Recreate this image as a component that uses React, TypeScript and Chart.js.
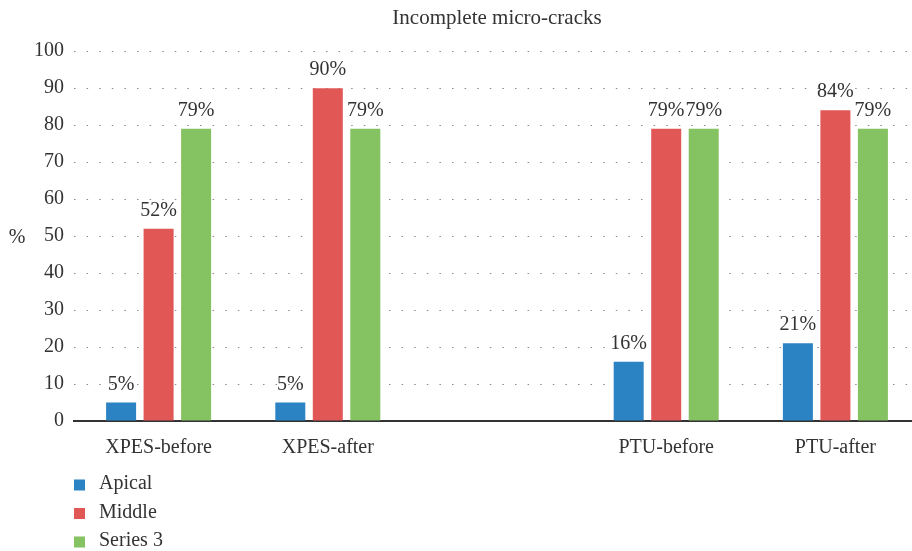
import React, { useEffect, useRef } from "react";
import { Chart, registerables } from "chart.js";

Chart.register(...registerables);

// ---- Data ----
const categories = ["XPES-before", "XPES-after", "", "PTU-before", "PTU-after"];
const seriesNames = ["Apical", "Middle", "Series 3"];
const apicalValues = [5, 5, null, 16, 21];
const middleValues = [52, 90, null, 79, 84];
const series3Values = [79, 79, null, 79, 79];
const seriesColors = ["#2C83C3", "#E05756", "#85C261"];
const chartTitle = "Incomplete micro-cracks";
const yAxisTitle = "%";
const yMin = 0;
const yMax = 100;
const yStep = 10;

const FONT = "'Liberation Serif', 'Times New Roman', serif";
const TEXT = "#333333";

const customPlugin = {
  id: "customDecor",
  afterDatasetsDraw(chart: any) {
    const ctx = chart.ctx;
    const area = chart.chartArea;
    ctx.save();
    // value labels
    ctx.font = `20px ${FONT}`;
    ctx.fillStyle = TEXT;
    ctx.textAlign = "center";
    ctx.textBaseline = "alphabetic";
    chart.data.datasets.forEach((ds: any, i: number) => {
      const meta = chart.getDatasetMeta(i);
      meta.data.forEach((el: any, j: number) => {
        const v = ds.data[j];
        if (v === null || v === undefined) return;
        ctx.fillText(`${v}%`, el.x, el.y - 13);
      });
    });
    // y-axis title (horizontal)
    ctx.textBaseline = "middle";
    ctx.fillText(yAxisTitle, 17, (area.top + area.bottom) / 2 + 2);
    // vertical legend
    ctx.textAlign = "left";
    chart.data.datasets.forEach((ds: any, i: number) => {
      const cy = area.bottom + 64 + i * 28.5;
      ctx.fillStyle = ds.backgroundColor;
      ctx.fillRect(area.left, cy - 5.5, 11, 11);
      ctx.fillStyle = TEXT;
      ctx.fillText(ds.label, area.left + 25, cy - 1);
    });
    ctx.restore();
  },
};

export default function App() {
  const canvasRef = useRef<HTMLCanvasElement | null>(null);

  useEffect(() => {
    if (!canvasRef.current) return;
    const valueSets = [apicalValues, middleValues, series3Values];
    const chart = new Chart(canvasRef.current, {
      type: "bar",
      data: {
        labels: categories,
        datasets: seriesNames.map((name, i) => ({
          label: name,
          data: valueSets[i],
          backgroundColor: seriesColors[i],
          borderWidth: 0,
          categoryPercentage: 0.665,
          barPercentage: 0.8,
        })),
      },
      options: {
        responsive: false,
        animation: false,
        layout: { padding: 0 },
        plugins: {
          legend: { display: false },
          tooltip: { enabled: false },
          title: {
            display: true,
            text: chartTitle,
            color: TEXT,
            font: { family: FONT, size: 21, weight: "normal" },
            padding: { top: 6, bottom: 20 },
            fullSize: false,
          },
        },
        scales: {
          x: {
            grid: { display: false },
            border: { display: true, color: "#333333", width: 2 },
            ticks: {
              color: TEXT,
              font: { family: FONT, size: 20 },
              padding: 7,
              maxRotation: 0,
              autoSkip: false,
            },
            afterFit: (s: any) => {
              s.height = 130;
            },
          },
          y: {
            min: yMin,
            max: yMax,
            grid: {
              drawTicks: false,
              color: (c: any) => (c.tick && c.tick.value === 0 ? "rgba(0,0,0,0)" : "#8a8a8a"),
              lineWidth: 1,
            },
            border: { display: false, dash: [1.5, 11.1] },
            ticks: {
              stepSize: yStep,
              color: TEXT,
              font: { family: FONT, size: 20 },
              padding: 10,
            },
            afterFit: (s: any) => {
              s.width = 74;
            },
          },
        },
      },
      plugins: [customPlugin],
    });
    return () => chart.destroy();
  }, []);

  return (
    <div
      style={{
        position: "absolute",
        left: 0,
        top: 0,
        width: 912,
        height: 551,
        overflow: "hidden",
        background: "#ffffff",
      }}
    >
      <canvas ref={canvasRef} width={920} height={551} style={{ display: "block" }} />
    </div>
  );
}
